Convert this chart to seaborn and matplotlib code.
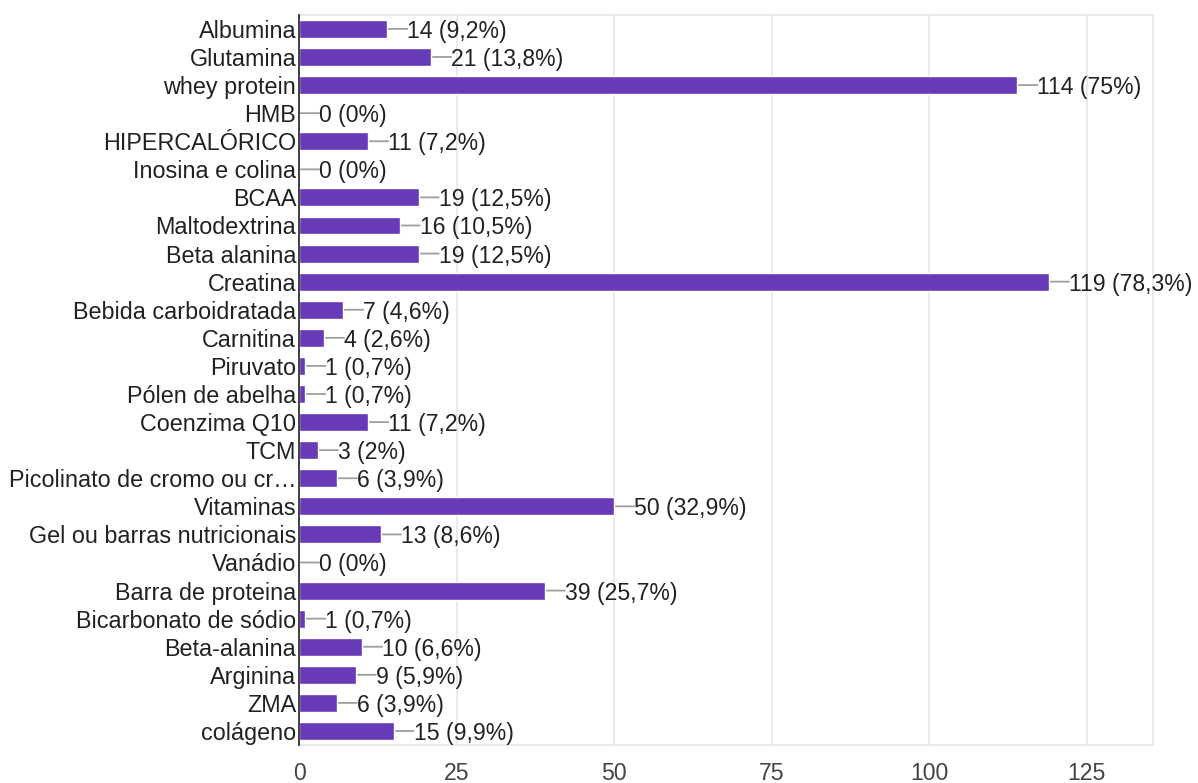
import matplotlib
matplotlib.use("Agg")
import matplotlib.pyplot as plt
import seaborn as sns
import pandas as pd

categories = ["Albumina", "Glutamina", "whey protein", "HMB", "HIPERCALÓRICO",
              "Inosina e colina", "BCAA", "Maltodextrina", "Beta alanina", "Creatina",
              "Bebida carboidratada", "Carnitina", "Piruvato", "Pólen de abelha",
              "Coenzima Q10", "TCM", "Picolinato de cromo ou cr…", "Vitaminas",
              "Gel ou barras nutricionais", "Vanádio", "Barra de proteina",
              "Bicarbonato de sódio", "Beta-alanina", "Arginina", "ZMA", "colágeno"]
counts = [14, 21, 114, 0, 11, 0, 19, 16, 19, 119, 7, 4, 1, 1, 11, 3, 6, 50, 13, 0, 39, 1, 10, 9, 6, 15]
percents = ["9,2%", "13,8%", "75%", "0%", "7,2%", "0%", "12,5%", "10,5%", "12,5%", "78,3%",
            "4,6%", "2,6%", "0,7%", "0,7%", "7,2%", "2%", "3,9%", "32,9%", "8,6%", "0%",
            "25,7%", "0,7%", "6,6%", "5,9%", "3,9%", "9,9%"]
x_ticks = [0, 25, 50, 75, 100, 125]

sns.set_theme(style="white")
plt.rcParams["font.family"] = ["Liberation Sans", "DejaVu Sans"]

df = pd.DataFrame({"cat": categories, "n": counts})

fig = plt.figure(figsize=(11.98, 7.83), dpi=100)
ax = fig.add_axes([0.2496, 0.0485, 0.7128, 0.9325])

sns.barplot(data=df, x="n", y="cat", orient="h", color="#673ab7", saturation=1,
            width=0.64, ax=ax, zorder=3)

for i, (v, p) in enumerate(zip(counts, percents)):
    ax.annotate("", xy=(v, i), xycoords="data", xytext=(20, 0), textcoords="offset pixels",
                arrowprops=dict(arrowstyle="-", color="#9e9e9e", lw=1.3,
                                shrinkA=0, shrinkB=0), zorder=2)
    ax.annotate(f"{v} ({p})", xy=(v, i), xycoords="data", xytext=(20, 0),
                textcoords="offset pixels", ha="left", va="center_baseline",
                fontsize=16.6, color="#212121")

ax.set_xlim(0, 135.5)
ax.set_ylim(len(categories) - 0.5, -0.5)
ax.set_xticks(x_ticks)
ax.set_xticklabels([str(t) for t in x_ticks])
ax.xaxis.grid(True, color="#e6e6e6", lw=1.2, zorder=0)
ax.yaxis.grid(False)
ax.set_xlabel("")
ax.set_ylabel("")
for s in ["top", "right", "bottom"]:
    ax.spines[s].set_color("#e6e6e6")
    ax.spines[s].set_linewidth(1.2)
ax.spines["left"].set_color("#333333")
ax.spines["left"].set_linewidth(1.3)
ax.spines["left"].set_zorder(4)
ax.tick_params(axis="y", length=0, pad=2, labelsize=16.8, labelcolor="#212121")
ax.tick_params(axis="x", length=0, pad=12, labelsize=16.6, labelcolor="#444444")
for lbl in ax.get_yticklabels():
    lbl.set_verticalalignment("center_baseline")

fig.savefig("out.png", dpi=100, facecolor="white")
